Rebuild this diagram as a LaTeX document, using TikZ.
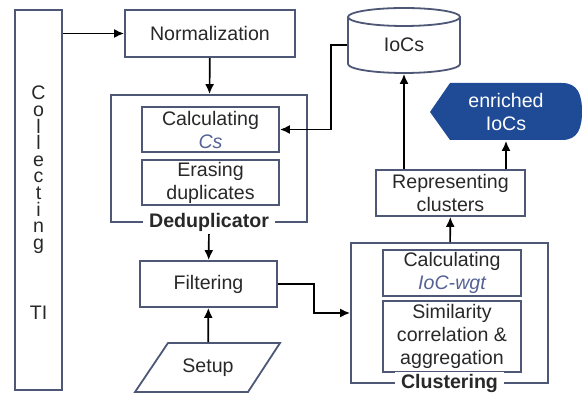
\documentclass[tikz,border=0pt]{standalone}
\usepackage{fontspec}
\setmainfont{Liberation Sans}
\usetikzlibrary{calc, arrows.meta}

\definecolor{boxline}{RGB}{78,88,118}
\definecolor{enrblue}{RGB}{30,74,150}
\definecolor{varblue}{RGB}{84,98,150}
\definecolor{txtgray}{RGB}{40,40,40}

\begin{document}
\begin{tikzpicture}[x=0.5pt, y=-0.5pt, line width=0.9pt,
  txt/.style={font=\fontsize{9.8}{11.5}\selectfont, align=center, inner sep=0pt, text=txtgray},
  box/.style={txt, draw=boxline},
  flow/.style={-{Latex[length=5pt,width=4.5pt]}, black, line width=0.85pt}]

% Canvas as in the reference
\useasboundingbox (0,0) rectangle (582,394);

% Collecting TI column
\node[box, minimum width=23.5pt, minimum height=190pt] (coll) at (38.5,200) {};
\foreach \l [count=\i] in {C,o,l,l,e,c,t,i,n,g} {
  \node[txt, text height=7pt, text depth=2pt] (ltr\i) at (38.5,{95+(\i-1)*16.6}) {\l};
}
\node[txt] (ti) at (38.5,313) {TI};

% Normalization
\node[box, minimum width=85pt, minimum height=23.5pt] (norm) at (210,33.5) {Normalization};

% Deduplicator with its two steps
\node[box, minimum width=98pt, minimum height=63.5pt] (dedup) at (209,158.5) {};
\node[box, minimum width=68.5pt, minimum height=22.5pt] (calcs) at (210.5,129.5)
  {Calculating\\\textcolor{varblue}{\itshape Cs}};
\node[box, minimum width=68.5pt, minimum height=22.5pt] (erase) at (210.5,182.5)
  {Erasing\\duplicates};
\node[txt, fill=white, inner xsep=3pt, inner ysep=1pt, font=\fontsize{9.8}{11.5}\selectfont\bfseries] (deduplab) at (209,222) {Deduplicator};

% Filtering and its setup
\node[box, minimum width=68.5pt, minimum height=23pt] (filt) at (208.5,284) {Filtering};
\draw[boxline] (135,392) -- (168,343) -- (280,343) -- (248,392) -- cycle;
\node[txt, minimum height=24.5pt] (setup) at (208,367.5) {Setup};

% IoCs store
\draw[boxline] (348,17) -- (348,64) arc[start angle=180, end angle=0, x radius=56, y radius=9] -- (460,17);
\draw[boxline] (404,17) ellipse [x radius=56, y radius=9];
\node[txt, minimum width=56pt, minimum height=28pt] (iocs) at (404,45) {IoCs};

% enriched IoCs
\fill[enrblue] (430,112) -- (450,83) -- (562,83)
  .. controls (578,83) and (582,95) .. (582,111.5)
  .. controls (582,128) and (578,140) .. (562,140) -- (450,140) -- cycle;
\node[txt, text=white, minimum height=28.5pt] (enr) at (506,111.5) {enriched\\IoCs};

% Representing clusters
\node[box, minimum width=74.5pt, minimum height=23pt] (rep) at (450.5,193) {Representing\\clusters};

% Clustering with its two steps
\node[box, minimum width=98.5pt, minimum height=70pt] (clus) at (449.5,313) {};
\node[box, minimum width=69pt, minimum height=23pt] (calw) at (452,273)
  {Calculating\\\textcolor{varblue}{\itshape IoC-wgt}};
\node[box, minimum width=69pt, minimum height=35.5pt] (sim) at (452,336.5)
  {Similarity\\correlation \&\\aggregation};
\node[txt, fill=white, inner xsep=3pt, inner ysep=1pt, font=\fontsize{9.8}{11.5}\selectfont\bfseries] (cluslab) at (449.5,383) {Clustering};

% Connectors
\draw[flow] (coll.east |- norm) -- (norm);
\draw[flow] (norm) -- (dedup);
\draw[flow] (iocs.west) -- ++(-16,0) |- (calcs.east);
\draw[flow] (deduplab) -- (filt);
\draw[flow] (setup) -- (filt);
\draw[flow] (filt.east) -- ++(36,0) |- (clus.west);
\draw[flow] (clus) -- (rep);
\draw[flow] (iocs.south |- rep.north) -- (iocs.south);
\draw[flow] (enr.south |- rep.north) -- (enr.south);

\end{tikzpicture}
\end{document}
